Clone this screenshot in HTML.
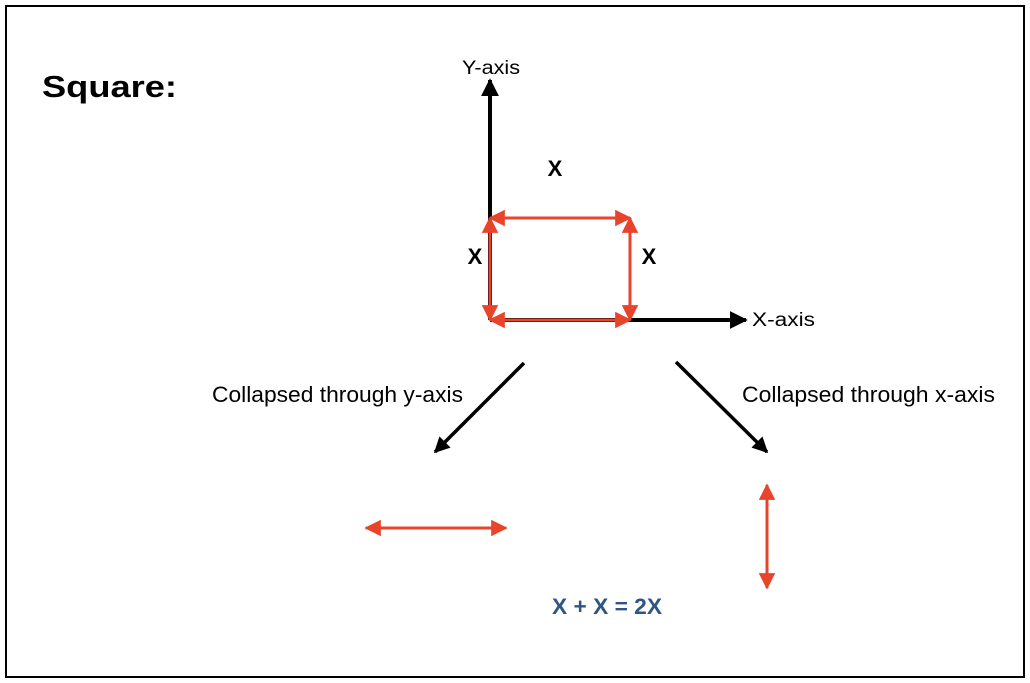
<!DOCTYPE html>
<html><head><style>
body{margin:0;background:#fff;}
svg{display:block;}
text{font-family:"Liberation Sans",sans-serif;}
</style></head><body>
<svg width="1030" height="683" viewBox="0 0 1030 683" xmlns="http://www.w3.org/2000/svg">
<defs>
<marker id="bk" viewBox="0 0 10 10" refX="9" refY="5" markerWidth="4.5" markerHeight="4.5" orient="auto-start-reverse" markerUnits="strokeWidth"><path d="M0,0L10,5L0,10z" fill="#000"/></marker>
<marker id="rd" viewBox="0 0 10 10" refX="9" refY="5" markerWidth="5.5" markerHeight="5.5" orient="auto-start-reverse" markerUnits="strokeWidth"><path d="M0,0L10,5L0,10z" fill="#e8442c"/></marker>
</defs>
<rect x="6" y="6" width="1018" height="671" fill="#fff" stroke="#000" stroke-width="2"/>
<text x="42" y="97" font-size="31" font-weight="bold" textLength="135" lengthAdjust="spacingAndGlyphs">Square:</text>
<text x="462" y="74" font-size="19" textLength="58" lengthAdjust="spacingAndGlyphs">Y-axis</text>
<text x="752" y="326" font-size="19" textLength="63" lengthAdjust="spacingAndGlyphs">X-axis</text>
<line x1="490" y1="320" x2="490" y2="80" stroke="#000" stroke-width="4" marker-end="url(#bk)"/>
<line x1="490" y1="320" x2="746" y2="320" stroke="#000" stroke-width="4" marker-end="url(#bk)"/>
<g stroke="#e8442c" stroke-width="3">
<line x1="490" y1="218" x2="630" y2="218" marker-start="url(#rd)" marker-end="url(#rd)"/>
<line x1="490" y1="320" x2="630" y2="320" marker-start="url(#rd)" marker-end="url(#rd)"/>
<line x1="490" y1="218" x2="490" y2="320" marker-start="url(#rd)" marker-end="url(#rd)"/>
<line x1="630" y1="218" x2="630" y2="320" marker-start="url(#rd)" marker-end="url(#rd)"/>
<line x1="366" y1="528" x2="506" y2="528" marker-start="url(#rd)" marker-end="url(#rd)"/>
<line x1="767" y1="485" x2="767" y2="588" marker-start="url(#rd)" marker-end="url(#rd)"/>
</g>
<text x="555" y="176" font-size="22" font-weight="bold" text-anchor="middle">X</text>
<text x="475" y="264" font-size="22" font-weight="bold" text-anchor="middle">X</text>
<text x="649" y="264" font-size="22" font-weight="bold" text-anchor="middle">X</text>
<line x1="524" y1="363" x2="435" y2="452" stroke="#000" stroke-width="3.5" marker-end="url(#bk)"/>
<line x1="676" y1="362" x2="767" y2="452" stroke="#000" stroke-width="3.5" marker-end="url(#bk)"/>
<text x="212" y="402" font-size="22" textLength="251" lengthAdjust="spacingAndGlyphs">Collapsed through y-axis</text>
<text x="742" y="402" font-size="22" textLength="253" lengthAdjust="spacingAndGlyphs">Collapsed through x-axis</text>
<text x="552" y="614" font-size="22" font-weight="bold" fill="#2e5583" textLength="110" lengthAdjust="spacingAndGlyphs">X + X = 2X</text>
</svg>
</body></html>
